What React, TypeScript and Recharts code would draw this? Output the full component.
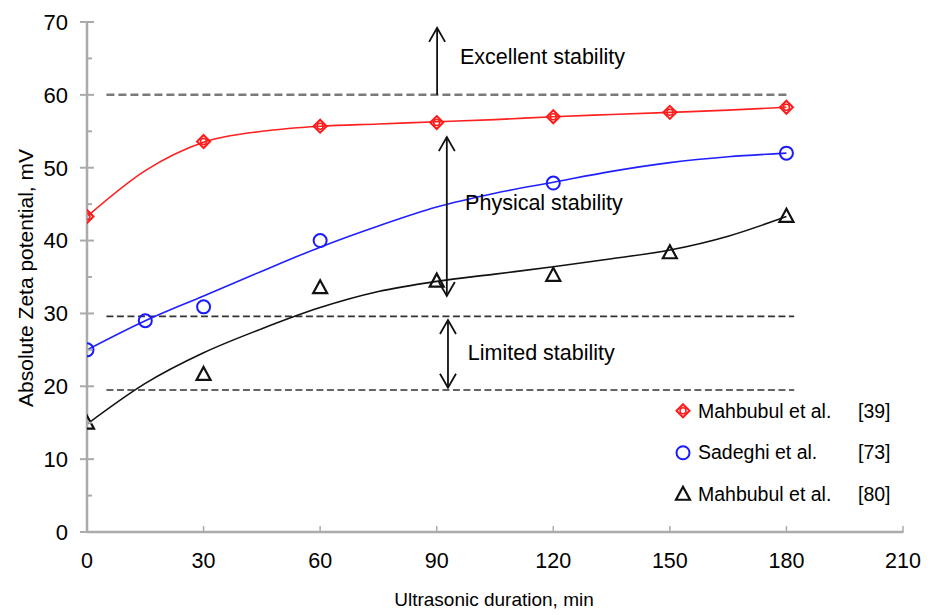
import React from 'react';
import {
  ComposedChart,
  Label,
  Legend,
  Line,
  ReferenceDot,
  ReferenceLine,
  Scatter,
  XAxis,
  YAxis,
} from 'recharts';

const xTicks = [0, 30, 60, 90, 120, 150, 180, 210];
const yTicks = [0, 5, 10, 15, 20, 25, 30, 35, 40, 45, 50, 55, 60, 65, 70];

// measured points
const mahbubul39Time = [0, 30, 60, 90, 120, 150, 180];
const mahbubul39Zeta = [43.3, 53.6, 55.7, 56.2, 57.0, 57.6, 58.3];
const sadeghiTime = [0, 15, 30, 60, 120, 180];
const sadeghiZeta = [25.0, 29.0, 30.9, 40.0, 47.9, 52.0];
const mahbubul80Time = [0, 30, 60, 90, 120, 150, 180];
const mahbubul80Zeta = [15.0, 21.7, 33.6, 34.5, 35.3, 38.4, 43.4];

// trend curves
const fitTime = [0, 15, 30, 45, 60, 75, 90, 105, 120, 135, 150, 165, 180];
const mahbubul39Fit = [43.3, 49.6, 53.5, 55.0, 55.7, 56.0, 56.3, 56.6, 57.0, 57.3, 57.6, 57.9, 58.3];
const sadeghiFit = [25.0, 29.0, 32.4, 35.8, 39.1, 42.0, 44.6, 46.5, 48.0, 49.5, 50.7, 51.5, 52.0];
const mahbubul80Fit = [14.8, 20.4, 24.6, 27.9, 30.8, 33.0, 34.4, 35.4, 36.4, 37.5, 38.7, 40.6, 43.3];

const excellentLimit = 60;
const physicalLimit = 29.6;
const limitedLimit = 19.5;

const seriesNames = ['Mahbubul et al.', 'Sadeghi et al.', 'Mahbubul et al.'];
const seriesRefs = ['[39]', '[73]', '[80]'];

const FONT = '"Liberation Sans", Arial, sans-serif';
const AXIS_GREY = '#ababab';

const toPoints = (xs: number[], ys: number[]) => xs.map((x, i) => ({ x, y: ys[i] }));

type Kind = 'diamond' | 'circle' | 'triangle';
const kinds: Kind[] = ['diamond', 'circle', 'triangle'];

function marker(kind: Kind, cx: number, cy: number) {
  if (kind === 'diamond') {
    return (
      <g>
        <path
          d={`M${cx},${cy - 6.5} L${cx + 6.5},${cy} L${cx},${cy + 6.5} L${cx - 6.5},${cy} Z`}
          fill="none"
          stroke="#ff1a1a"
          strokeWidth={2}
        />
        <circle cx={cx} cy={cy} r={3} fill="none" stroke="#ff1a1a" strokeWidth={1.5} />
      </g>
    );
  }
  if (kind === 'circle') {
    return <circle cx={cx} cy={cy} r={6.5} fill="none" stroke="#1a1aff" strokeWidth={2} />;
  }
  return (
    <path
      d={`M${cx},${cy - 7} L${cx + 7},${cy + 6} L${cx - 7},${cy + 6} Z`}
      fill="none"
      stroke="#111"
      strokeWidth={2.2}
      strokeLinejoin="miter"
    />
  );
}

const YTick = (props: any) => {
  const { x, y, payload } = props;
  const axisX = x + 8;
  const major = payload.value % 10 === 0;
  return (
    <g>
      <line
        x1={major ? axisX - 7 : axisX}
        x2={axisX + (major ? 7 : 5)}
        y1={y}
        y2={y}
        stroke={AXIS_GREY}
        strokeWidth={2}
      />
      {major && (
        <text x={axisX - 19} y={y} dy="0.36em" textAnchor="end" fontSize={22} fontFamily={FONT} fill="#000">
          {payload.value}
        </text>
      )}
    </g>
  );
};

const XTick = (props: any) => {
  const { x, y, payload } = props;
  return (
    <g>
      <line x1={x} x2={x} y1={y - 6} y2={y + 1} stroke={AXIS_GREY} strokeWidth={1.5} />
      <text x={x} y={y + 28} dy="0.36em" textAnchor="middle" fontSize={21.5} fontFamily={FONT} fill="#000">
        {payload.value}
      </text>
    </g>
  );
};

const arrowShape = (both: boolean) => (props: any) => {
  const { x1, y1, x2, y2 } = props;
  const len = Math.hypot(x2 - x1, y2 - y1) || 1;
  const dx = (x2 - x1) / len;
  const dy = (y2 - y1) / len;
  const head = (tx: number, ty: number, ux: number, uy: number) =>
    `M${tx - 14 * ux - 8 * uy},${ty - 14 * uy + 8 * ux} L${tx},${ty} L${tx - 14 * ux + 8 * uy},${ty - 14 * uy - 8 * ux}`;
  return (
    <g fill="none" stroke="#111" strokeWidth={1.8}>
      <line x1={x1} y1={y1} x2={x2} y2={y2} />
      <path d={head(x2, y2, dx, dy)} />
      {both && <path d={head(x1, y1, -dx, -dy)} />}
    </g>
  );
};

const textShape = (value: string) => (props: any) => (
  <text x={props.cx} y={props.cy} dy="0.36em" fontSize={21.5} fontFamily={FONT} fill="#000">
    {value}
  </text>
);

const LegendContent = () => (
  <div style={{ position: 'relative', width: 260, height: 125, fontFamily: FONT, fontSize: 19.5 }}>
    {kinds.map((k, i) => (
      <div key={i} style={{ position: 'absolute', left: 0, top: i * 41.5, height: 41.5, width: 260 }}>
        <svg width={20} height={41.5} style={{ position: 'absolute', left: 0, top: 0 }}>
          {marker(k, 10, 20.75)}
        </svg>
        <span style={{ position: 'absolute', left: 25, top: 20.75, transform: 'translateY(-50%)', whiteSpace: 'nowrap' }}>
          {seriesNames[i]}
        </span>
        <span style={{ position: 'absolute', left: 185, top: 20.75, transform: 'translateY(-50%)' }}>
          {seriesRefs[i]}
        </span>
      </div>
    ))}
  </div>
);

export default function App() {
  const fits = [mahbubul39Fit, sadeghiFit, mahbubul80Fit];
  const fitColors = ['#ff2020', '#2020ff', '#111'];
  const points = [
    toPoints(mahbubul39Time, mahbubul39Zeta),
    toPoints(sadeghiTime, sadeghiZeta),
    toPoints(mahbubul80Time, mahbubul80Zeta),
  ];

  return (
    <ComposedChart
      width={925}
      height={607}
      margin={{ top: 14, right: 30, left: 19, bottom: 0 }}
      style={{ fontFamily: FONT }}
    >
      <XAxis
        type="number"
        dataKey="x"
        domain={[0, 210]}
        ticks={xTicks}
        interval={0}
        tickSize={0}
        tickMargin={0}
        tick={<XTick />}
        height={83}
        axisLine={{ stroke: AXIS_GREY, strokeWidth: 2.5 }}
        allowDataOverflow
      >
        <Label
          content={() => (
            <text x={486} y={598} textAnchor="middle" fontSize={19} fontFamily={FONT} fill="#000">
              Ultrasonic duration, min
            </text>
          )}
        />
      </XAxis>
      <YAxis
        type="number"
        domain={[0, 70]}
        ticks={yTicks}
        interval={0}
        tickSize={0}
        tickMargin={8}
        tick={<YTick />}
        width={60}
        axisLine={{ stroke: AXIS_GREY, strokeWidth: 2.5 }}
        allowDataOverflow
      >
        <Label
          content={() => (
            <text
              x={17}
              y={270}
              transform="rotate(-90 17 270)"
              dy="0.36em"
              textAnchor="middle"
              fontSize={21}
              fontFamily={FONT}
              fill="#000"
            >
              Absolute Zeta potential, mV
            </text>
          )}
        />
      </YAxis>

      <ReferenceLine
        segment={[{ x: 5, y: excellentLimit }, { x: 180.5, y: excellentLimit }]}
        stroke="#7a7a7a"
        strokeWidth={2.5}
        strokeDasharray="8 4"
      />
      <ReferenceLine
        segment={[{ x: 5, y: physicalLimit }, { x: 182, y: physicalLimit }]}
        stroke="#333"
        strokeWidth={1.6}
        strokeDasharray="7 3.5"
      />
      <ReferenceLine
        segment={[{ x: 5, y: limitedLimit }, { x: 182, y: limitedLimit }]}
        stroke="#333"
        strokeWidth={1.6}
        strokeDasharray="7 3.5"
      />

      {fits.map((f, i) => (
        <Line
          key={`fit-${i}`}
          data={toPoints(fitTime, f)}
          dataKey="y"
          type="monotone"
          stroke={fitColors[i]}
          strokeWidth={1.6}
          dot={false}
          activeDot={false}
          legendType="none"
          isAnimationActive={false}
        />
      ))}

      {points.map((p, i) => (
        <Scatter
          key={`pts-${i}`}
          name={`${seriesNames[i]} ${seriesRefs[i]}`}
          data={p}
          dataKey="y"
          isAnimationActive={false}
          shape={(s: any) => marker(kinds[i], s.cx, s.cy)}
        />
      ))}

      <ReferenceLine
        segment={[{ x: 90.1, y: excellentLimit }, { x: 90.1, y: 69.2 }]}
        shape={arrowShape(false)}
      />
      <ReferenceLine
        segment={[{ x: 92.6, y: 32.4 }, { x: 92.6, y: 54.2 }]}
        shape={arrowShape(true)}
      />
      <ReferenceLine
        segment={[{ x: 92.9, y: 19.8 }, { x: 92.9, y: 29.1 }]}
        shape={arrowShape(true)}
      />

      <ReferenceDot x={96} y={65.3} r={0} shape={textShape('Excellent stability')} />
      <ReferenceDot x={97.3} y={45.3} r={0} shape={textShape('Physical stability')} />
      <ReferenceDot x={98} y={24.7} r={0} shape={textShape('Limited stability')} />

      <Legend
        layout="vertical"
        align="center"
        verticalAlign="middle"
        wrapperStyle={{ left: 665, top: 382, width: 260, height: 125 }}
        content={<LegendContent />}
      />
    </ComposedChart>
  );
}
